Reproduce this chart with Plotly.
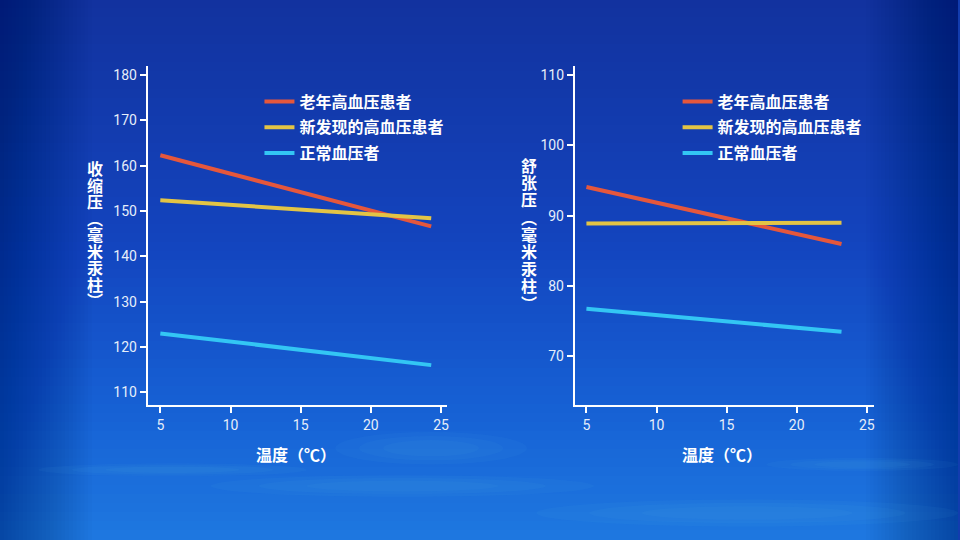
import plotly.graph_objects as go

# data (regression lines, temperature vs blood pressure)
series_names = ["老年高血压患者", "新发现的高血压患者", "正常血压者"]
series_colors = ["#e5573c", "#e3c445", "#33c6f4"]

temp_sys = [5, 24.3]
sys_elderly = [162.3, 146.6]
sys_new = [152.4, 148.4]
sys_normal = [123.0, 116.0]

temp_dia = [5, 23.2]
dia_elderly = [94.1, 86.0]
dia_new = [88.9, 89.0]
dia_normal = [76.8, 73.5]

x_ticks = [5, 10, 15, 20, 25]
sys_ticks = [110, 120, 130, 140, 150, 160, 170, 180]
dia_ticks = [70, 80, 90, 100, 110]

x_title = "温度（℃）"
sys_title = "收缩压︵毫米汞柱︶"
dia_title = "舒张压︵毫米汞柱︶"

W, H = 960, 540
FONT = "Noto Sans CJK SC"

fig = go.Figure()

sys_values = [sys_elderly, sys_new, sys_normal]
dia_values = [dia_elderly, dia_new, dia_normal]
for i, (name, color, ys) in enumerate(zip(series_names, series_colors, sys_values)):
    fig.add_trace(go.Scatter(x=temp_sys, y=ys, mode="lines", name=name,
                             line=dict(color=color, width=4), legendgroup="a%d" % i,
                             xaxis="x", yaxis="y", legend="legend"))
for i, (name, color, ys) in enumerate(zip(series_names, series_colors, dia_values)):
    fig.add_trace(go.Scatter(x=temp_dia, y=ys, mode="lines", name=name,
                             line=dict(color=color, width=4), legendgroup="b%d" % i,
                             xaxis="x2", yaxis="y2", legend="legend2"))

# background: vertical gradient built from thin bands
def lerp(c1, c2, t):
    return tuple(round(a + (b - a) * t) for a, b in zip(c1, c2))

stops = [(0.0, (18, 50, 158)), (0.45, (19, 68, 190)), (0.75, (22, 96, 212)), (1.0, (30, 120, 224))]
shapes = []
n = 60
for i in range(n):
    t = (i + 0.5) / n
    for (t0, c0), (t1, c1) in zip(stops[:-1], stops[1:]):
        if t0 <= t <= t1:
            c = lerp(c0, c1, (t - t0) / (t1 - t0))
            break
    shapes.append(dict(type="rect", xref="paper", yref="paper", layer="below",
                       x0=0, x1=1, y0=1 - (i + 1) / n, y1=1 - i / n + 0.002,
                       fillcolor="rgb(%d,%d,%d)" % c, line_width=0))
# side vignette
for k in range(24):
    w = 0.004 * (k + 1)
    for x0, x1 in [(0, w), (1 - w, 1)]:
        shapes.append(dict(type="rect", xref="paper", yref="paper", layer="below",
                           x0=x0, x1=x1, y0=0, y1=1, fillcolor="rgba(5,15,70,0.016)",
                           line_width=0))
# bottom glow, soft streaks made of stacked ellipses
for (cx, cy, rx, ry) in [(0.42, 0.1, 0.2, 0.02), (0.78, 0.05, 0.22, 0.025),
                         (0.45, 0.17, 0.1, 0.03), (0.18, 0.13, 0.14, 0.012),
                         (0.9, 0.14, 0.1, 0.012)]:
    for s in [1.0, 0.75, 0.5]:
        shapes.append(dict(type="circle", xref="paper", yref="paper", layer="below",
                           x0=cx - rx * s, x1=cx + rx * s, y0=cy - ry * s, y1=cy + ry * s,
                           fillcolor="rgba(90,190,240,0.05)", line_width=0))

axis_common = dict(showline=True, linecolor="white", linewidth=2, showgrid=False,
                   zeroline=False, ticks="outside", tickcolor="white", ticklen=6,
                   tickwidth=1.5, tickfont=dict(family="Roboto", size=14, color="#e6eefa"))

def px_x(p):
    return p / W

def px_y(p):
    return 1 - p / H

legend_font = dict(family=FONT, size=16, color="white", weight="bold")
fig.update_layout(
    width=W, height=H,
    margin=dict(l=0, r=0, t=0, b=0),
    paper_bgcolor="rgb(18,60,175)",
    plot_bgcolor="rgba(0,0,0,0)",
    shapes=shapes,
    font=dict(family=FONT, color="white"),
    xaxis=dict(domain=[px_x(148), px_x(448)], range=[4.1, 25.43], tickvals=x_ticks,
               anchor="y", **axis_common),
    yaxis=dict(domain=[px_y(405), px_y(66)], range=[107.2, 182.0], tickvals=sys_ticks,
               anchor="x", **axis_common),
    xaxis2=dict(domain=[px_x(576), px_x(876)], range=[4.17, 25.53], tickvals=x_ticks,
                anchor="y2", **axis_common),
    yaxis2=dict(domain=[px_y(405), px_y(66)], range=[63.1, 111.3], tickvals=dia_ticks,
                anchor="x2", **axis_common),
    legend=dict(x=px_x(260), y=px_y(84.5), xanchor="left", yanchor="top", tracegroupgap=2,
                bgcolor="rgba(0,0,0,0)", font=legend_font),
    legend2=dict(x=px_x(679), y=px_y(84.5), xanchor="left", yanchor="top", tracegroupgap=2,
                 bgcolor="rgba(0,0,0,0)", font=legend_font),
)

annotations = []
for cx, text in [(297, x_title), (724, x_title)]:
    annotations.append(dict(x=px_x(cx), y=px_y(454), xref="paper", yref="paper",
                            xanchor="center", yanchor="middle",
                            text=text, showarrow=False, font=legend_font))
# vertical y titles, one character per row
for cx, top, step, text in [(95, 168, 16.5, sys_title), (530, 165, 17.2, dia_title)]:
    for k, ch in enumerate(text):
        annotations.append(dict(x=px_x(cx), y=px_y(top + k * step), xref="paper", yref="paper",
                                xanchor="center", yanchor="middle",
                                text=ch, showarrow=False, font=legend_font))
fig.update_layout(annotations=annotations)

fig.write_html("out.html", config={"displayModeBar": False},
               post_script="document.body.style.margin='0';")
